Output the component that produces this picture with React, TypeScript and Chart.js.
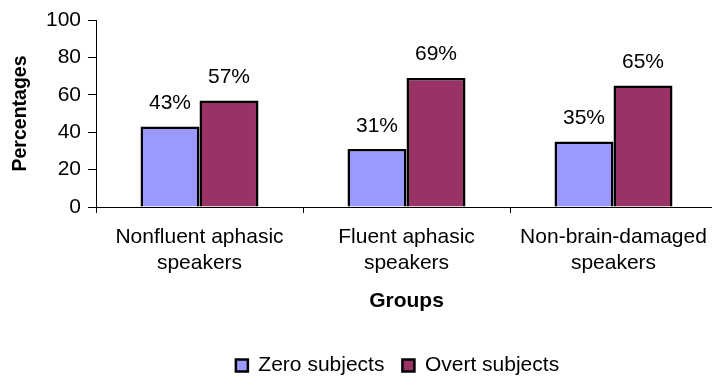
import React, { useEffect, useRef } from "react";
import { Chart, registerables } from "chart.js";

Chart.register(...registerables);

const categories: string[][] = [
  ["Nonfluent aphasic", "speakers"],
  ["Fluent aphasic", "speakers"],
  ["Non-brain-damaged", "speakers"],
];
const zeroSubjects: number[] = [43, 31, 35];
const overtSubjects: number[] = [57, 69, 65];
const yTicks: number[] = [0, 20, 40, 60, 80, 100];

const FONT = "'Liberation Sans', Arial, sans-serif";

const valueLabels = {
  id: "valueLabels",
  afterDatasetsDraw(chart: any) {
    const ctx = chart.ctx;
    ctx.save();
    ctx.font = `21px ${FONT}`;
    ctx.fillStyle = "#000";
    ctx.textAlign = "center";
    ctx.textBaseline = "alphabetic";
    chart.data.datasets.forEach((ds: any, di: number) => {
      const meta = chart.getDatasetMeta(di);
      meta.data.forEach((bar: any, i: number) => {
        ctx.fillText(`${ds.data[i]}%`, bar.x, bar.y - 17.5);
      });
    });
    ctx.restore();
  },
};

// the legend sits centred under the full original figure, not the plot
const legendShift = {
  id: "legendShift",
  afterLayout(chart: any) {
    if (chart.legend) {
      chart.legend.left += 39;
      chart.legend.right += 39;
    }
  },
};

export default function App() {
  const ref = useRef<HTMLCanvasElement>(null);
  useEffect(() => {
    const chart = new Chart(ref.current!, {
      type: "bar",
      data: {
        labels: categories,
        datasets: [
          {
            label: "Zero subjects",
            data: zeroSubjects,
            backgroundColor: "#9999FF",
            borderColor: "#000",
            borderWidth: 2.5,
            categoryPercentage: 0.57,
            barPercentage: 1,
          },
          {
            label: "Overt subjects",
            data: overtSubjects,
            backgroundColor: "#993366",
            borderColor: "#000",
            borderWidth: 2.5,
            categoryPercentage: 0.57,
            barPercentage: 1,
          },
        ],
      },
      options: {
        responsive: false,
        animation: false,
        layout: { padding: { top: 20, right: 73, bottom: 0, left: 0 } },
        plugins: {
          tooltip: { enabled: false },
          legend: {
            position: "bottom",
            labels: {
              font: { family: FONT, size: 21 },
              color: "#000",
              boxWidth: 12,
              boxHeight: 12,
              padding: 18,
            },
          },
        },
        scales: {
          x: {
            afterFit(scale: any) {
              scale.height = 130;
            },
            grid: {
              display: true,
              drawOnChartArea: false,
              drawTicks: true,
              tickLength: 6,
              color: "#000",
              offset: true,
            },
            border: { display: true, color: "#000", width: 1 },
            ticks: {
              font: { family: FONT, size: 21 },
              color: "#000",
              padding: 12,
              maxRotation: 0,
            },
            title: {
              display: true,
              text: "Groups",
              font: { family: FONT, size: 21, weight: "bold" },
              color: "#000",
              padding: { top: 0, bottom: 23 },
            },
          },
          y: {
            min: 0,
            max: 100,
            afterFit(scale: any) {
              scale.width = 96;
            },
            afterBuildTicks(scale: any) {
              scale.ticks = yTicks.map((v) => ({ value: v }));
            },
            grid: {
              display: true,
              drawOnChartArea: false,
              drawTicks: true,
              tickLength: 8,
              color: "#000",
            },
            border: { display: true, color: "#000", width: 1 },
            ticks: {
              font: { family: FONT, size: 21 },
              color: "#000",
              padding: 7,
            },
            title: {
              display: true,
              text: "Percentages",
              font: { family: FONT, size: 19.5, weight: "bold" },
              color: "#000",
              padding: { top: 9, bottom: 0 },
            },
          },
        },
      },
      plugins: [valueLabels, legendShift],
    });
    return () => chart.destroy();
  }, []);
  return (
    <div
      style={{
        position: "fixed",
        left: 0,
        top: 0,
        width: 712,
        height: 376,
        overflow: "hidden",
        background: "#fff",
      }}
    >
      <canvas ref={ref} width={790} height={386} style={{ display: "block" }} />
    </div>
  );
}
